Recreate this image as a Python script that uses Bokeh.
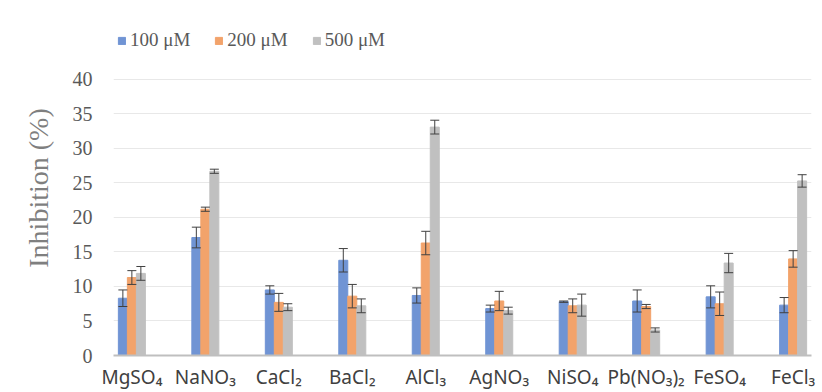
from bokeh.plotting import figure
from bokeh.models import ColumnDataSource, Whisker, TeeHead, Legend, LegendItem, FixedTicker, Range1d
from bokeh.embed import file_html
from bokeh.resources import INLINE

salts = ["MgSO\u2084", "NaNO\u2083", "CaCl\u2082", "BaCl\u2082", "AlCl\u2083",
         "AgNO\u2083", "NiSO\u2084", "Pb(NO\u2083)\u2082", "FeSO\u2084", "FeCl\u2083"]
series_names = ["100 \u03bcM", "200 \u03bcM", "500 \u03bcM"]
v100 = [8.3, 17.1, 9.5, 13.8, 8.7, 6.8, 7.8, 7.9, 8.5, 7.3]
e100 = [1.2, 1.5, 0.6, 1.7, 1.1, 0.5, 0.1, 1.6, 1.6, 1.1]
v200 = [11.3, 21.2, 7.7, 8.6, 16.3, 7.9, 7.2, 7.1, 7.5, 14.0]
e200 = [1.0, 0.3, 1.3, 1.7, 1.7, 1.4, 1.0, 0.3, 1.7, 1.2]
v500 = [11.9, 26.7, 7.0, 7.2, 33.1, 6.5, 7.3, 3.7, 13.4, 25.3]
e500 = [1.0, 0.3, 0.5, 1.0, 1.0, 0.5, 1.6, 0.3, 1.4, 0.9]
y_ticks = [0, 5, 10, 15, 20, 25, 30, 35, 40]

colors = ["#7094d4", "#f2a36b", "#c0c0c0"]
offsets = [-0.1225, 0.0, 0.1225]
bar_w = 0.1225

# frame extends above 40 so the legend can sit inside it (no axis line / grid above 40)
p = figure(frame_width=698, frame_height=335, output_backend="svg", toolbar_location=None,
           x_range=Range1d(-0.25, 9.25), y_range=Range1d(0, 48.55),
           min_border_left=113, min_border_right=11, min_border_top=20, min_border_bottom=35)
p.outline_line_color = None
p.background_fill_color = "white"
p.border_fill_color = "white"

items = []
for vals, errs, col, off, name in zip([v100, v200, v500], [e100, e200, e500], colors, offsets, series_names):
    xs = [i + off for i in range(len(salts))]
    src = ColumnDataSource(dict(x=xs, top=vals,
                                upper=[v + e for v, e in zip(vals, errs)],
                                lower=[v - e for v, e in zip(vals, errs)]))
    r = p.vbar(x="x", top="top", bottom=0, width=bar_w, source=src,
               fill_color=col, line_color=col)
    w = Whisker(base="x", upper="upper", lower="lower", source=src, dimension="height",
                line_color="#404040", line_width=1, level="annotation",
                upper_head=TeeHead(size=9, line_color="#404040", line_width=1),
                lower_head=TeeHead(size=9, line_color="#404040", line_width=1))
    p.add_layout(w)
    items.append(LegendItem(label=name, renderers=[r]))

legend = Legend(items=items, orientation="horizontal", location=(4, 304),
                glyph_width=9, glyph_height=9, label_standoff=4, spacing=24,
                padding=0, margin=0, border_line_color=None, background_fill_alpha=0,
                label_text_font="Liberation Serif", label_text_font_size="19px",
                label_text_color="#595959")
p.add_layout(legend)

# axes
p.xaxis.ticker = FixedTicker(ticks=list(range(len(salts))))
p.xaxis.major_label_overrides = {i: s for i, s in enumerate(salts)}
p.xaxis.major_label_text_font = "Noto Sans"
p.xaxis.major_label_text_font_size = "19px"
p.xaxis.major_label_text_color = "#404040"
p.xaxis.major_tick_line_color = None
p.xaxis.minor_tick_line_color = None
p.xaxis.axis_line_color = "#bfbfbf"
p.xaxis.axis_line_width = 2
p.xaxis.major_label_standoff = 2

p.yaxis.ticker = FixedTicker(ticks=y_ticks)
p.yaxis.major_label_text_font = "Liberation Serif"
p.yaxis.major_label_text_font_size = "20px"
p.yaxis.major_label_text_color = "#595959"
p.yaxis.major_tick_line_color = None
p.yaxis.minor_tick_line_color = None
p.yaxis.axis_line_color = None
p.yaxis.major_label_standoff = 15
p.yaxis.axis_label = "Inhibition (%)"
p.yaxis.axis_label_text_font = "Liberation Serif"
p.yaxis.axis_label_text_font_size = "28px"
p.yaxis.axis_label_text_font_style = "normal"
p.yaxis.axis_label_text_color = "#7f7f7f"
p.yaxis.axis_label_standoff = 16

p.xgrid.grid_line_color = None
p.ygrid.grid_line_color = "#e8e8e8"
p.ygrid.grid_line_width = 1

open("out.html", "w").write(file_html(p, INLINE))
